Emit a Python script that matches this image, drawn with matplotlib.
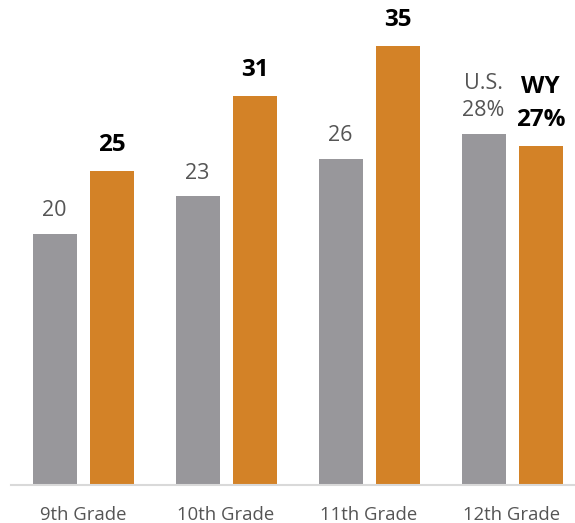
import matplotlib.pyplot as plt
import numpy as np

# Data
grades = ["9th Grade", "10th Grade", "11th Grade", "12th Grade"]
us_values = [20, 23, 26, 28]
wy_values = [25, 31, 35, 27]
us_labels = ["20", "23", "26", "U.S.\n28%"]
wy_labels = ["25", "31", "35", "WY\n27%"]

gray = "#98979b"
orange = "#d38227"

plt.rcParams['font.family'] = ['Open Sans', 'DejaVu Sans']

fig = plt.figure(figsize=(5.75, 5.23), dpi=100)
W, H = 575, 523
left_px, base_px, top_px = 11, 485, 10
ax = fig.add_axes([left_px / W, (H - base_px) / H, (W - left_px) / W, (base_px - top_px) / H])

px_per_unit = 12.55
grp = 143.0
x = np.arange(len(grades))
width = 44 / grp
off = 28.5 / grp

b1 = ax.bar(x - off, us_values, width, color=gray)
b2 = ax.bar(x + off, wy_values, width, color=orange)

for rect, lab in zip(b1, us_labels):
    ax.annotate(lab, (rect.get_x() + rect.get_width() / 2, rect.get_height()),
                xytext=(0, 9), textcoords='offset points', ha='center', va='bottom',
                fontsize=15.5, color='#555555', linespacing=1.4)
for rect, lab in zip(b2, wy_labels):
    ax.annotate(lab, (rect.get_x() + rect.get_width() / 2, rect.get_height()),
                xytext=(0, 10), textcoords='offset points', ha='center', va='bottom',
                fontsize=17.5, fontweight='bold', color='black', linespacing=1.5)

ax.set_xlim(-72 / grp, -72 / grp + (W - left_px) / grp)
ax.set_ylim(0, (base_px - top_px) / px_per_unit)
ax.set_xticks(x)
ax.set_xticklabels(grades, fontsize=13.3, color='#555555')
ax.tick_params(axis='x', length=0, pad=15)
ax.set_yticks([])
for s in ['top', 'right', 'left']:
    ax.spines[s].set_visible(False)
ax.spines['bottom'].set_color('#d9d9d9')
ax.spines['bottom'].set_linewidth(1.5)

fig.savefig("out.png", dpi=100)
